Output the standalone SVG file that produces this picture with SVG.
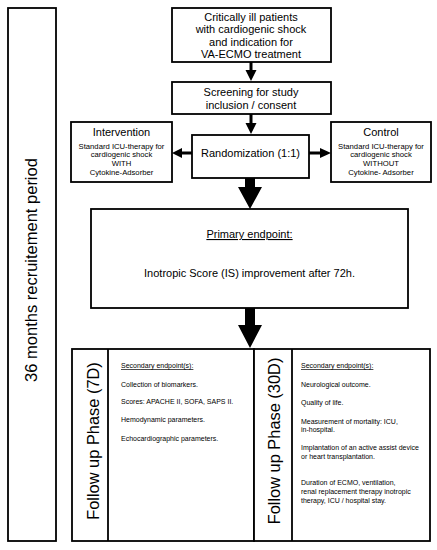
<svg xmlns="http://www.w3.org/2000/svg" width="437" height="550" viewBox="0 0 437 550">
<style>
.box{fill:#fff;stroke:#000;stroke-width:1.8}
text{font-family:"Liberation Sans",Arial,sans-serif;fill:#000}
.m{font-size:11px;text-anchor:middle}
.s{font-size:7.7px;text-anchor:middle}
.e{font-size:7px}
.v{font-size:16.4px;text-anchor:middle}
.u{text-decoration:underline}
.ar{fill:#000;stroke:none}
</style>
<rect width="437" height="550" fill="#fff"/>
<g id="recruitment">
<rect class="box" x="8" y="8" width="48" height="533"/>
<text class="v" style="font-size:16.5px" transform="translate(36.5,270) rotate(-90)">36 months recruitement period</text>
</g>
<g id="patients">
<rect class="box" x="172" y="8" width="159" height="54"/>
<text class="m" x="251" y="20.5">Critically ill patients</text>
<text class="m" x="251" y="33">with cardiogenic shock</text>
<text class="m" x="251" y="45.5">and indication for</text>
<text class="m" x="251" y="58">VA-ECMO treatment</text>
</g>
<g id="screening">
<rect class="box" x="172" y="82" width="159" height="32"/>
<text class="m" x="251" y="96">Screening for study</text>
<text class="m" x="251" y="108.5">inclusion / consent</text>
</g>
<g id="randomization">
<rect class="box" x="192" y="135" width="117" height="43"/>
<text class="m" x="250.5" y="157">Randomization (1:1)</text>
</g>
<g id="intervention">
<rect class="box" x="71" y="122" width="101" height="60"/>
<text class="m" x="121.5" y="136">Intervention</text>
<text class="s" x="121.5" y="148.5">Standard ICU-therapy for</text>
<text class="s" x="121.5" y="157">cardiogenic shock</text>
<text class="s" x="121.5" y="166">WITH</text>
<text class="s" x="121.5" y="175">Cytokine-Adsorber</text>
</g>
<g id="control">
<rect class="box" x="331" y="122" width="100" height="60"/>
<text class="m" x="381" y="136">Control</text>
<text class="s" x="381" y="148.5">Standard ICU-therapy for</text>
<text class="s" x="381" y="157">cardiogenic shock</text>
<text class="s" x="381" y="166">WITHOUT</text>
<text class="s" x="381" y="175">Cytokine- Adsorber</text>
</g>
<g id="primary">
<rect class="box" x="91" y="209" width="317" height="99"/>
<text class="m u" x="249.5" y="238">Primary endpoint:</text>
<text class="m" x="249.5" y="277">Inotropic Score (IS) improvement after 72h.</text>
</g>
<g id="followup7">
<rect class="box" x="72" y="349" width="182" height="192"/>
<line x1="108" y1="349" x2="108" y2="541" stroke="#000" stroke-width="1.8"/>
<text class="v" transform="translate(99,441) rotate(-90)">Follow up Phase (7D)</text>
<text class="e u" x="121" y="368">Secondary endpoint(s):</text>
<text class="e" x="121" y="386.5">Collection of biomarkers.</text>
<text class="e" x="121" y="403.5">Scores: APACHE II, SOFA, SAPS II.</text>
<text class="e" x="121" y="421.5">Hemodynamic parameters.</text>
<text class="e" x="121" y="440.5">Echocardiographic parameters.</text>
</g>
<g id="followup30">
<rect class="box" x="254" y="349" width="176" height="192"/>
<line x1="292" y1="349" x2="292" y2="541" stroke="#000" stroke-width="1.8"/>
<text class="v" transform="translate(279.5,441) rotate(-90)">Follow up Phase (30D)</text>
<text class="e u" x="301" y="368">Secondary endpoint(s):</text>
<text class="e" x="301" y="386.5">Neurological outcome.</text>
<text class="e" x="301" y="405">Quality of life.</text>
<text class="e" x="301" y="424">Measurement of mortality: ICU,</text>
<text class="e" x="301" y="432">in-hospital.</text>
<text class="e" x="301" y="450">Implantation of an active assist device</text>
<text class="e" x="301" y="459">or heart transplantation.</text>
<text class="e" x="301" y="485">Duration of ECMO, ventilation,</text>
<text class="e" x="301" y="494">renal replacement therapy inotropic</text>
<text class="e" x="301" y="502.5">therapy, ICU / hospital stay.</text>
</g>
<g id="connectors">
<polygon class="ar" points="249.5,62 252.5,62 252.5,70 256.5,70 251,81 245.5,70 249.5,70"/>
<polygon class="ar" points="249.5,114 252.5,114 252.5,123 256.5,123 251,134 245.5,123 249.5,123"/>
<polygon class="ar" points="192,151.5 182,151.5 182,148 172,153 182,158 182,154.5 192,154.5"/>
<polygon class="ar" points="309,151.5 320,151.5 320,148 331,153 320,158 320,154.5 309,154.5"/>
<polygon class="ar" points="245,178 255,178 255,187 262,187 250,209 238,187 245,187"/>
<polygon class="ar" points="245,308 255,308 255,325 262,325 250,348 238,325 245,325"/>
</g>
</svg>
